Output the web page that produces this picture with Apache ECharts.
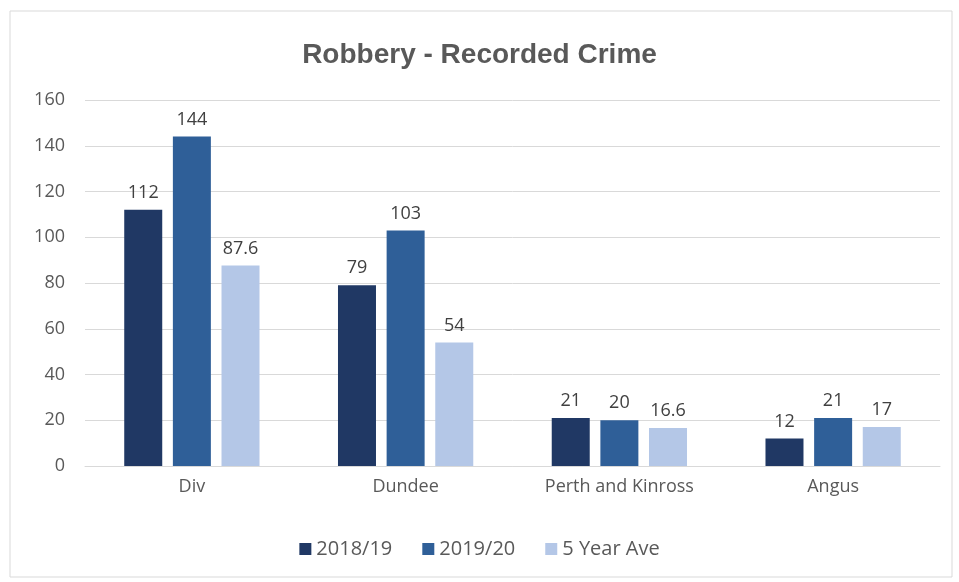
<!DOCTYPE html>
<html><head><meta charset="utf-8">
<script src="https://cdn.jsdelivr.net/npm/echarts@6/dist/echarts.min.js"></script>
<style>html,body{margin:0;padding:0;background:#fff}#c{width:959px;height:582px}</style>
</head><body><div id="c"></div>
<script>
const categories = ['Div', 'Dundee', 'Perth and Kinross', 'Angus'];
const s2018 = [112, 79, 21, 12];
const s2019 = [144, 103, 20, 21];
const sAve = [87.6, 54, 16.6, 17];
const seriesNames = ['2018/19', '2019/20', '5 Year Ave'];
const colors = ['#203864', '#2f5f98', '#b4c7e7'];
const yTicks = [0, 20, 40, 60, 80, 100, 120, 140, 160];

const chart = echarts.init(document.getElementById('c'));
const font = '"Open Sans", sans-serif';
const lbl = {show: true, position: 'top', color: '#404040', fontSize: 18, fontFamily: font, distance: 8};
chart.setOption({
  animation: false,
  backgroundColor: '#fff',
  graphic: [{type: 'rect', shape: {x: 10, y: 11, width: 942, height: 566}, style: {fill: 'none', stroke: '#d9d9d9', lineWidth: 1}}],
  title: {text: 'Robbery - Recorded Crime', left: 'center', top: 36,
    textStyle: {fontSize: 28, fontWeight: 'bold', color: '#595959', fontFamily: 'Arial, "Liberation Sans", sans-serif'}},
  legend: {bottom: 18, left: 'center', itemWidth: 12, itemHeight: 12, itemGap: 30,
    textStyle: {fontSize: 20, color: '#595959', fontFamily: font}, icon: 'rect'},
  grid: {left: 85, right: 19, top: 100, bottom: 116},
  xAxis: {type: 'category', data: categories,
    axisLine: {lineStyle: {color: '#d9d9d9'}}, axisTick: {show: false},
    axisLabel: {color: '#595959', fontSize: 18, fontFamily: font, margin: 12}},
  yAxis: {type: 'value', min: yTicks[0], max: yTicks[yTicks.length - 1], interval: 20,
    axisLabel: {color: '#595959', fontSize: 18, fontFamily: font, margin: 20, align: 'right'},
    splitLine: {lineStyle: {color: '#d9d9d9'}}},
  series: [
    {name: seriesNames[0], type: 'bar', data: s2018, itemStyle: {color: colors[0]}, barWidth: 38, barGap: '28%', label: lbl},
    {name: seriesNames[1], type: 'bar', data: s2019, itemStyle: {color: colors[1]}, barWidth: 38, barGap: '28%', label: lbl},
    {name: seriesNames[2], type: 'bar', data: sAve, itemStyle: {color: colors[2]}, barWidth: 38, barGap: '28%', label: lbl}
  ]
});
</script></body></html>
